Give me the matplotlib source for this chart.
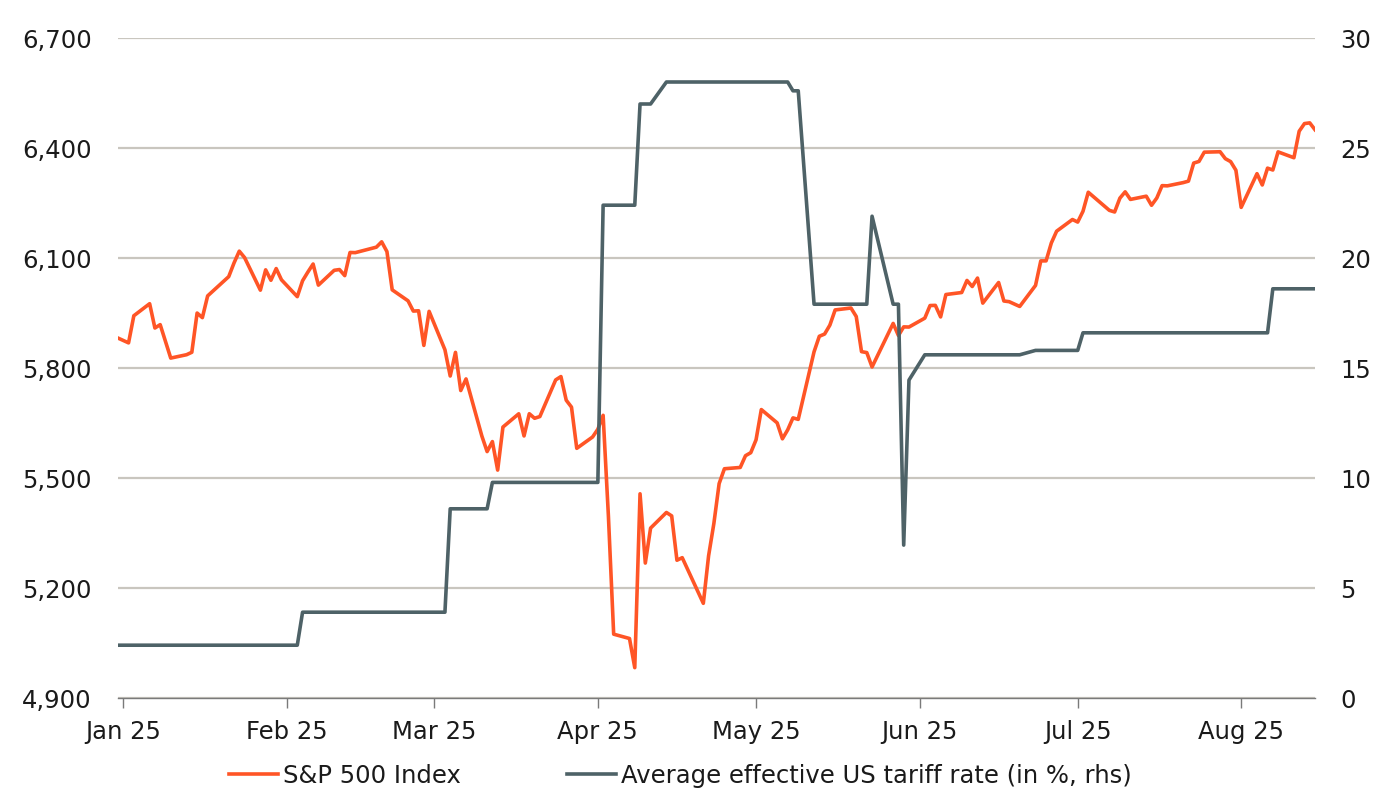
import pandas as pd
import matplotlib.pyplot as plt
import matplotlib.dates as mdates
from matplotlib.ticker import FuncFormatter

# S&P 500 daily closes
spx_dates = [
    "2024-12-31",
    "2025-01-02", "2025-01-03", "2025-01-06", "2025-01-07", "2025-01-08", "2025-01-10",
    "2025-01-13", "2025-01-14", "2025-01-15", "2025-01-16", "2025-01-17", "2025-01-21",
    "2025-01-22", "2025-01-23", "2025-01-24", "2025-01-27", "2025-01-28", "2025-01-29",
    "2025-01-30", "2025-01-31",
    "2025-02-03", "2025-02-04", "2025-02-05", "2025-02-06", "2025-02-07", "2025-02-10",
    "2025-02-11", "2025-02-12", "2025-02-13", "2025-02-14", "2025-02-18", "2025-02-19",
    "2025-02-20", "2025-02-21", "2025-02-24", "2025-02-25", "2025-02-26", "2025-02-27",
    "2025-02-28",
    "2025-03-03", "2025-03-04", "2025-03-05", "2025-03-06", "2025-03-07", "2025-03-10",
    "2025-03-11", "2025-03-12", "2025-03-13", "2025-03-14", "2025-03-17", "2025-03-18",
    "2025-03-19", "2025-03-20", "2025-03-21", "2025-03-24", "2025-03-25", "2025-03-26",
    "2025-03-27", "2025-03-28", "2025-03-31",
    "2025-04-01", "2025-04-02", "2025-04-03", "2025-04-04", "2025-04-07", "2025-04-08",
    "2025-04-09", "2025-04-10", "2025-04-11", "2025-04-14", "2025-04-15", "2025-04-16",
    "2025-04-17", "2025-04-21", "2025-04-22", "2025-04-23", "2025-04-24", "2025-04-25",
    "2025-04-28", "2025-04-29", "2025-04-30",
    "2025-05-01", "2025-05-02", "2025-05-05", "2025-05-06", "2025-05-07", "2025-05-08",
    "2025-05-09", "2025-05-12", "2025-05-13", "2025-05-14", "2025-05-15", "2025-05-16",
    "2025-05-19", "2025-05-20", "2025-05-21", "2025-05-22", "2025-05-23", "2025-05-27",
    "2025-05-28", "2025-05-29", "2025-05-30",
    "2025-06-02", "2025-06-03", "2025-06-04", "2025-06-05", "2025-06-06", "2025-06-09",
    "2025-06-10", "2025-06-11", "2025-06-12", "2025-06-13", "2025-06-16", "2025-06-17",
    "2025-06-18", "2025-06-20", "2025-06-23", "2025-06-24", "2025-06-25", "2025-06-26",
    "2025-06-27", "2025-06-30",
    "2025-07-01", "2025-07-02", "2025-07-03", "2025-07-07", "2025-07-08", "2025-07-09",
    "2025-07-10", "2025-07-11", "2025-07-14", "2025-07-15", "2025-07-16", "2025-07-17",
    "2025-07-18", "2025-07-21", "2025-07-22", "2025-07-23", "2025-07-24", "2025-07-25",
    "2025-07-28", "2025-07-29", "2025-07-30", "2025-07-31",
    "2025-08-01", "2025-08-04", "2025-08-05", "2025-08-06", "2025-08-07", "2025-08-08",
    "2025-08-11", "2025-08-12", "2025-08-13", "2025-08-14", "2025-08-15",
]
spx_values = [
    5881.63,
    5868.55, 5942.47, 5975.38, 5909.03, 5918.25, 5827.04,
    5836.22, 5842.91, 5949.91, 5937.34, 5996.66, 6049.24,
    6086.37, 6118.71, 6101.24, 6012.28, 6067.70, 6039.31,
    6071.17, 6040.53,
    5994.57, 6037.88, 6061.48, 6083.57, 6025.99, 6066.44,
    6068.50, 6051.97, 6115.07, 6114.63, 6129.58, 6144.15,
    6117.52, 6013.13, 5983.25, 5955.25, 5956.06, 5861.57,
    5954.50,
    5849.72, 5778.15, 5842.63, 5738.52, 5770.20, 5614.56,
    5572.07, 5599.30, 5521.52, 5638.94, 5675.12, 5614.66,
    5675.29, 5662.89, 5667.56, 5767.57, 5776.65, 5712.20,
    5693.31, 5580.94, 5611.85,
    5633.07, 5670.97, 5396.52, 5074.08, 5062.25, 4982.77,
    5456.90, 5268.05, 5363.36, 5405.97, 5396.63, 5275.70,
    5282.70, 5158.20, 5287.76, 5375.86, 5484.77, 5525.21,
    5528.75, 5560.83, 5569.06,
    5604.14, 5686.67, 5650.38, 5606.91, 5631.28, 5663.94,
    5659.91, 5844.19, 5886.55, 5892.58, 5916.93, 5958.38,
    5963.60, 5940.46, 5844.61, 5842.01, 5802.82, 5921.54,
    5888.55, 5912.17, 5911.69,
    5935.94, 5970.37, 5970.81, 5939.30, 6000.36, 6005.88,
    6038.81, 6022.24, 6045.26, 5976.97, 6033.11, 5982.72,
    5980.87, 5967.84, 6025.17, 6092.18, 6092.16, 6141.02,
    6173.07, 6204.95,
    6198.01, 6227.42, 6279.35, 6229.98, 6225.52, 6263.26,
    6280.46, 6259.75, 6268.56, 6243.76, 6263.70, 6297.36,
    6296.79, 6305.60, 6309.62, 6358.91, 6363.35, 6388.64,
    6389.77, 6370.86, 6362.90, 6339.39,
    6238.01, 6329.94, 6299.19, 6345.06, 6340.00, 6389.45,
    6373.45, 6445.76, 6466.58, 6468.54, 6449.80,
]

# average effective US tariff rate (%), points where it changes
tariff_dates = [
    "2024-12-31", "2025-02-03", "2025-02-04", "2025-03-03", "2025-03-04", "2025-03-11",
    "2025-03-12", "2025-04-01", "2025-04-02", "2025-04-08", "2025-04-09", "2025-04-11",
    "2025-04-14", "2025-05-07", "2025-05-08", "2025-05-09", "2025-05-12", "2025-05-22",
    "2025-05-23", "2025-05-27", "2025-05-28", "2025-05-29", "2025-05-30", "2025-06-02",
    "2025-06-20", "2025-06-23", "2025-07-01", "2025-07-02", "2025-08-06", "2025-08-07",
    "2025-08-15",
]
tariff_values = [
    2.4, 2.4, 3.9, 3.9, 8.6, 8.6,
    9.8, 9.8, 22.4, 22.4, 27.0, 27.0,
    28.0, 28.0, 27.6, 27.6, 17.9, 17.9,
    21.9, 17.9, 17.9, 6.95, 14.45, 15.6,
    15.6, 15.8, 15.8, 16.6, 16.6, 18.6,
    18.6,
]

left_ticks = [4900, 5200, 5500, 5800, 6100, 6400, 6700]
right_ticks = [0, 5, 10, 15, 20, 25, 30]

ORANGE = '#ff5526'
SLATE = '#4e6267'
GRID = '#c9c6bf'
TEXT = '#1a1a1a'
FS = 17.5

plt.rcParams['font.family'] = ['DejaVu Sans']

fig = plt.figure(figsize=(14, 8), dpi=100)
ax = fig.add_axes([118 / 1400, 1 - 698 / 800, (1315 - 118) / 1400, 660 / 800])
ax2 = ax.twinx()

spx_x = pd.to_datetime(spx_dates)
tar_x = pd.to_datetime(tariff_dates)

ax.plot(spx_x, spx_values, color=ORANGE, lw=2.6, label='S&P 500 Index', zorder=3)
ax2.plot(tar_x, tariff_values, color=SLATE, lw=2.6,
         label='Average effective US tariff rate (in %, rhs)', zorder=3)

ax.set_ylim(4900, 6700)
ax.set_yticks(left_ticks)
ax.yaxis.set_major_formatter(FuncFormatter(lambda v, p: f'{int(v):,}'))
ax2.set_ylim(0, 30)
ax2.set_yticks(right_ticks)

ax.set_xlim(pd.Timestamp('2024-12-31'), pd.Timestamp('2025-08-15'))
ax.xaxis.set_major_locator(mdates.MonthLocator())
ax.xaxis.set_major_formatter(mdates.DateFormatter('%b %y'))

ax.grid(axis='y', color=GRID, lw=1.6)
ax.set_axisbelow(True)

for a in (ax, ax2):
    for s in ('top', 'left', 'right', 'bottom'):
        a.spines[s].set_visible(False)
ax.spines['bottom'].set_visible(True)
ax.spines['bottom'].set_color('#7a7a7a')
ax.spines['bottom'].set_linewidth(1.0)

ax.tick_params(axis='y', length=0, pad=19, labelsize=FS, labelcolor=TEXT)
ax2.tick_params(axis='y', length=0, pad=18, labelsize=FS, labelcolor=TEXT)
ax.tick_params(axis='x', length=7, width=1, color='#7a7a7a', pad=9,
               labelsize=FS, labelcolor=TEXT)

h1, l1 = ax.get_legend_handles_labels()
h2, l2 = ax2.get_legend_handles_labels()
fig.legend(h1 + h2, l1 + l2, loc='center', bbox_to_anchor=(0.486, 1 - 776 / 800),
           ncol=2, frameon=False, fontsize=FS, handlelength=2.0,
           handletextpad=0.2, columnspacing=4.4, labelcolor=TEXT)

fig.savefig('out.png', dpi=100)
